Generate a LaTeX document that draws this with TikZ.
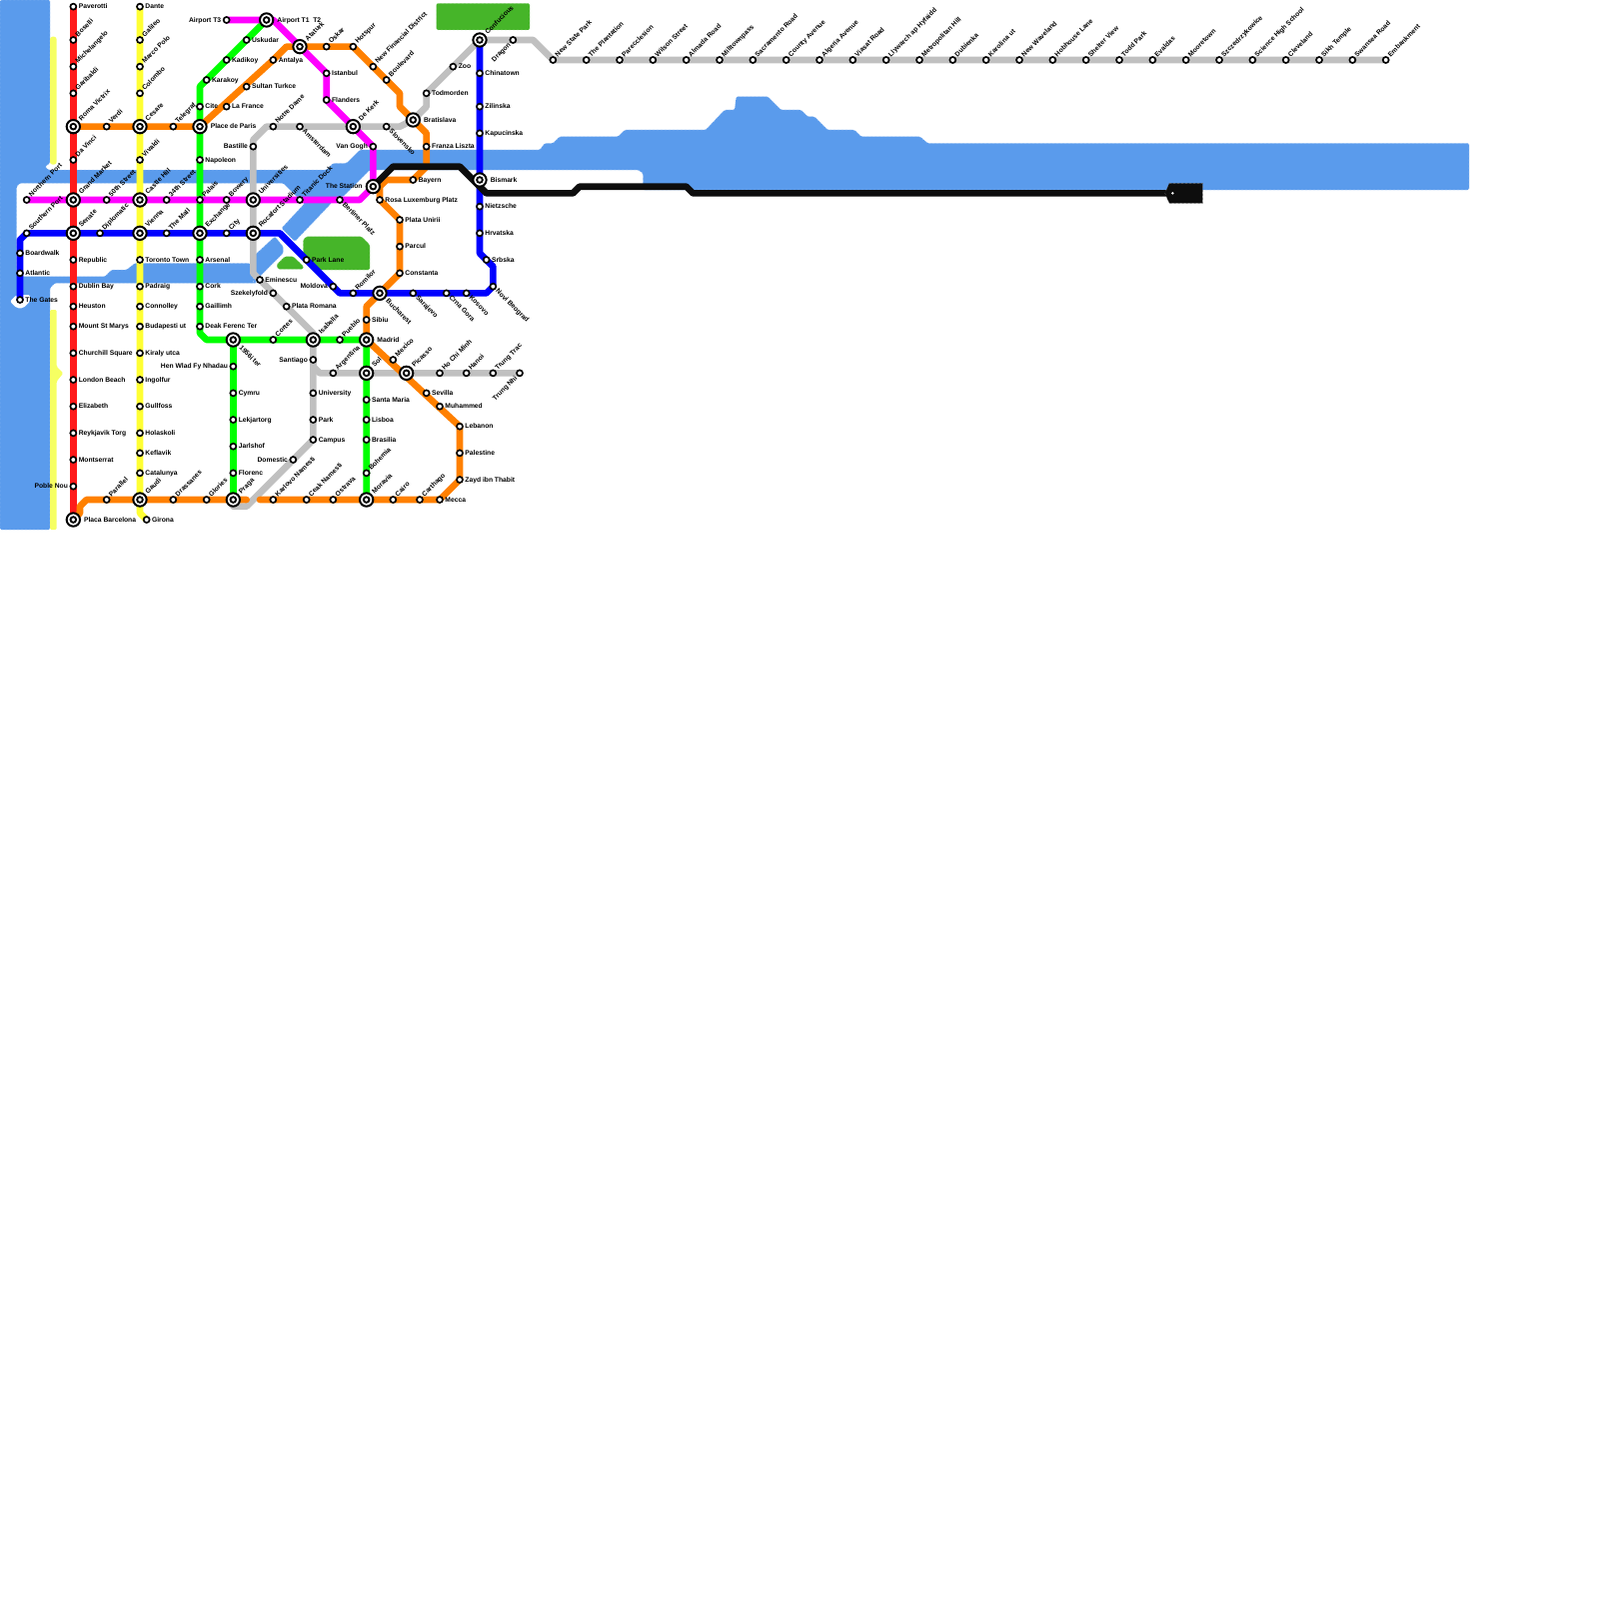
\documentclass[tikz,border=0pt]{standalone}
\usepackage{fontspec}
\setmainfont{Liberation Sans}
\pgfdeclarelayer{water}\pgfdeclarelayer{lines}
\pgfsetlayers{water,lines,main}
\definecolor{wat}{HTML}{5A9BEC}
\definecolor{prk}{HTML}{46B529}
\definecolor{pyel}{HTML}{F6FF62}
\definecolor{lred}{HTML}{FF1A1A}
\definecolor{lorg}{HTML}{FF8000}
\definecolor{lyel}{HTML}{FFFF33}
\definecolor{lgrn}{HTML}{00FF00}
\definecolor{lblu}{HTML}{0000FF}
\definecolor{lmag}{HTML}{FF00FF}
\definecolor{lgry}{HTML}{C0C0C0}
\definecolor{lblk}{HTML}{0D0D0D}
\tikzset{
 stn/.style={circle,draw=black,fill=white,line width=.25mm,minimum size=.9mm,inner sep=0},
 ixo/.style={circle,draw=black,fill=white,line width=.3mm,minimum size=2mm,inner sep=0},
 ixi/.style={circle,draw=black,fill=white,line width=.28mm,minimum size=.85mm,inner sep=0},
 lab/.style={inner sep=0,font=\fontsize{2.87}{3}\selectfont\bfseries,text height=.8mm,text depth=.14mm,text=black},
 labR/.style={lab,xshift=.75mm,anchor=west},
 labL/.style={lab,xshift=-.75mm,anchor=east},
 labU/.style={lab,xshift=.45mm,yshift=.6mm,rotate=45,anchor=west},
 labD/.style={lab,xshift=.55mm,yshift=-.5mm,rotate=-45,anchor=west},
 labDL/.style={lab,xshift=-.5mm,yshift=-.55mm,rotate=45,anchor=east},
 labRI/.style={lab,xshift=1.55mm,anchor=west},
 labLI/.style={lab,xshift=-1.55mm,anchor=east},
 labUI/.style={lab,xshift=.95mm,yshift=1mm,rotate=45,anchor=west},
 labDI/.style={lab,xshift=1.05mm,yshift=-1mm,rotate=-45,anchor=west},
 ln/.style={line width=1mm,line join=round,line cap=round},
 wfill/.style={fill=wat,draw=white!55!wat,line width=.05mm,dash pattern=on .3mm off .3mm,rounded corners=.2mm},
 pfill/.style={fill=prk,draw=white!55!prk,line width=.05mm,dash pattern=on .3mm off .3mm,rounded corners=.2mm},
}
\newcommand{\St}[5]{\node[stn] (#1) at (#2,#3) {};\node[lab#4] (#1l) at (#1.center) {#5};}
\newcommand{\Ix}[5]{\node[ixo] (#1) at (#2,#3) {};\node[ixi] (#1i) at (#1.center) {};\node[lab#4I] (#1l) at (#1.center) {#5};}
\begin{document}
\begin{tikzpicture}[x=1mm,y=-1mm]
\useasboundingbox (0,0) rectangle (240,240);
% red
\St{pav}{11}{1}{R}{Paverotti}\St{bos}{11}{6}{U}{Boselli}\St{mic}{11}{10}{U}{Michelangelo}\St{gar}{11}{14}{U}{Garibaldi}
\Ix{rom}{11}{19}{U}{Roma Victrix}\St{dav}{11}{24}{U}{Da Vinci}\Ix{grm}{11}{30}{U}{Grand Market}\Ix{sen}{11}{35}{U}{Senate}
\St{rep}{11}{39}{R}{Republic}\St{dub}{11}{43}{R}{Dublin Bay}\St{heu}{11}{46}{R}{Heuston}\St{mou}{11}{49}{R}{Mount St Marys}
\St{chu}{11}{53}{R}{Churchill Square}\St{lon}{11}{57}{R}{London Beach}\St{eli}{11}{61}{R}{Elizabeth}\St{rey}{11}{65}{R}{Reykjavik Torg}
\St{mon}{11}{69}{R}{Montserrat}\St{pob}{11}{73}{L}{Poble Nou}\Ix{pla}{11}{78}{R}{Placa Barcelona}
% yellow
\St{dan}{21}{1}{R}{Dante}\St{gal}{21}{6}{U}{Galileo}\St{mar}{21}{10}{U}{Marco Polo}\St{col}{21}{14}{U}{Colombo}
\Ix{ces}{21}{19}{U}{Cesare}\St{viv}{21}{24}{U}{Vivaldi}\Ix{cas}{21}{30}{U}{Castle Hill}\Ix{vie}{21}{35}{U}{Vienna}
\St{tor}{21}{39}{R}{Toronto Town}\St{pad}{21}{43}{R}{Padraig}\St{con}{21}{46}{R}{Connolley}\St{bud}{21}{49}{R}{Budapesti ut}
\St{kir}{21}{53}{R}{Kiraly utca}\St{ing}{21}{57}{R}{Ingolfur}\St{gul}{21}{61}{R}{Gullfoss}\St{hol}{21}{65}{R}{Holaskoli}
\St{kef}{21}{68}{R}{Keflavik}\St{cat}{21}{71}{R}{Catalunya}\Ix{gau}{21}{75}{U}{Gaudi}\St{gir}{22}{78}{R}{Girona}
% green
\Ix{atw}{40}{3}{R}{Airport T1\ \ T2}\St{usk}{37}{6}{R}{Uskudar}\St{kad}{34}{9}{R}{Kadikoy}\St{kar}{31}{12}{R}{Karakoy}
\St{cit}{30}{16}{R}{Cite}\Ix{pdp}{30}{19}{R}{Place de Paris}\St{nap}{30}{24}{R}{Napoleon}\St{pal}{30}{30}{U}{Palais}
\Ix{exc}{30}{35}{U}{Exchange}\St{ars}{30}{39}{R}{Arsenal}\St{cor}{30}{43}{R}{Cork}\St{gai}{30}{46}{R}{Gaillimh}\St{dea}{30}{49}{R}{Deak Ferenc Ter}
\Ix{nin}{35}{51}{D}{1956i ter}\St{crt}{41}{51}{U}{Cortes}\Ix{isa}{47}{51}{U}{Isabella}\St{pue}{51}{51}{U}{Pueblo}\Ix{mad}{55}{51}{R}{Madrid}
\Ix{sol}{55}{56}{U}{Sol}\St{san}{55}{60}{R}{Santa Maria}\St{lis}{55}{63}{R}{Lisboa}\St{bra}{55}{66}{R}{Brasilia}\St{boh}{55}{71}{U}{Bohemia}\Ix{mor}{55}{75}{U}{Moravia}
\St{hen}{35}{55}{L}{Hen Wlad Fy Nhadau}\St{cym}{35}{59}{R}{Cymru}\St{lek}{35}{63}{R}{Lekjartorg}\St{jar}{35}{67}{R}{Jarlshof}\St{flo}{35}{71}{R}{Florenc}\Ix{pra}{35}{75}{U}{Praga}
% magenta
\St{ath}{34}{3}{L}{Airport T3}\Ix{ata}{45}{7}{U}{Ataturk}\St{ist}{49}{11}{R}{Istanbul}\St{fla}{49}{15}{R}{Flanders}\Ix{dek}{53}{19}{U}{De Kerk}
\St{van}{56}{22}{L}{Van Gogh}\Ix{sta}{56}{28}{L}{The Station}\St{ber}{51}{30}{D}{Berliner Platz}\St{tit}{45}{30}{U}{Titanic Dock}\Ix{uni}{38}{30}{U}{Universities}
\St{bow}{34}{30}{U}{Bowery}\St{tfo}{25}{30}{U}{34th Street}\St{fif}{16}{30}{U}{50th Street}\St{nor}{4}{30}{U}{Northern Port}
% blue
\St{sou}{4}{35}{U}{Southern Port}\St{boa}{3}{38}{R}{Boardwalk}\St{atl}{3}{41}{R}{Atlantic}\St{gat}{3}{45}{R}{The Gates}
\St{dip}{15}{35}{U}{Diplomatic}\St{mal}{25}{35}{U}{The Mall}\St{ctv}{34}{35}{U}{City}\Ix{roc}{38}{35}{U}{Rocafort Stadium}
\St{prl}{46}{39}{R}{Park Lane}\St{mol}{50}{43}{L}{Moldova}\St{rmi}{53}{44}{U}{Romilor}\Ix{buc}{57}{44}{D}{Bucharest}
\St{sar}{62}{44}{D}{Sarajevo}\St{crn}{67}{44}{D}{Crna Gora}\St{kos}{70}{44}{D}{Kosovo}\St{nov}{74}{43}{D}{Novi Beograd}
\St{srb}{73}{39}{R}{Srbska}\St{hrv}{72}{35}{R}{Hrvatska}\St{nie}{72}{31}{R}{Nietzsche}\Ix{bis}{72}{27}{R}{Bismark}
\St{kap}{72}{20}{R}{Kapucinska}\St{zil}{72}{16}{R}{Zilinska}\St{chi}{72}{11}{R}{Chinatown}\Ix{cfu}{72}{6}{U}{Confucious}
% orange
\St{par}{16}{75}{U}{Parallel}\St{dra}{26}{75}{U}{Drassanes}\St{glo}{31}{75}{U}{Glories}
\St{ver}{16}{19}{U}{Verdi}\St{tel}{26}{19}{U}{Telegraf}\St{lfr}{34}{16}{R}{La France}\St{sul}{37}{13}{R}{Sultan Turkce}\St{ant}{41}{9}{R}{Antalya}
\St{osk}{49}{7}{U}{Oskar}\St{hot}{53}{7}{U}{Hotspur}\St{nfd}{56}{10}{U}{New Financial District}\St{bou}{58}{12}{U}{Boulevard}
\Ix{bsl}{62}{18}{R}{Bratislava}\St{fra}{64}{22}{R}{Franza Liszta}\St{bay}{62}{27}{R}{Bayern}\St{ros}{57}{30}{R}{Rosa Luxemburg Platz}
\St{unr}{60}{33}{R}{Plata Unirii}\St{pcl}{60}{37}{R}{Parcul}\St{cst}{60}{41}{R}{Constanta}\St{sib}{55}{48}{R}{Sibiu}
\St{mex}{59}{54}{U}{Mexico}\Ix{pic}{61}{56}{U}{Picasso}\St{sev}{64}{59}{R}{Sevilla}\St{muh}{66}{61}{R}{Muhammed}\St{leb}{69}{64}{R}{Lebanon}
\St{pst}{69}{68}{R}{Palestine}\St{zay}{69}{72}{R}{Zayd ibn Thabit}\St{mec}{66}{75}{R}{Mecca}\St{cth}{63}{75}{U}{Carthago}\St{cai}{59}{75}{U}{Cairo}
\St{ost}{50}{75}{U}{Ostrava}\St{cea}{46}{75}{U}{Ceak Namesti}\St{kno}{41}{75}{U}{Karlovo Namesti}
% gray
\St{bas}{38}{22}{L}{Bastille}\St{ntd}{41}{19}{U}{Notre Dame}\St{ams}{45}{19}{D}{Amsterdam}\St{slo}{58}{19}{D}{Slovensko}
\St{emi}{39}{42}{R}{Eminescu}\St{sze}{41}{44}{L}{Szekelyfold}\St{prm}{43}{46}{R}{Plata Romana}
\St{sag}{47}{54}{L}{Santiago}\St{uty}{47}{59}{R}{University}\St{prk}{47}{63}{R}{Park}\St{cam}{47}{66}{R}{Campus}\St{dom}{44}{69}{L}{Domestic}
\St{arg}{50}{56}{U}{Argentina}\St{hcm}{66}{56}{U}{Ho Chi Minh}\St{han}{70}{56}{U}{Hanoi}\St{trt}{74}{56}{U}{Trung Trac}\St{trn}{78}{56}{DL}{Trung Nhi}
\St{tod}{64}{14}{R}{Todmorden}\St{zoo}{68}{10}{R}{Zoo}\St{dgn}{77}{6}{DL}{Dragon}
\St{nsp}{83}{9}{U}{New State Park}\St{pln}{88}{9}{U}{The Plantation}\St{prc}{93}{9}{U}{Parecclesion}\St{wil}{98}{9}{U}{Wilson Street}
\St{alm}{103}{9}{U}{Almada Road}\St{mil}{108}{9}{U}{Milltownpass}\St{sac}{113}{9}{U}{Sacramento Road}\St{cou}{118}{9}{U}{County Avenue}
\St{alg}{123}{9}{U}{Algeria Avenue}\St{via}{128}{9}{U}{Viasat Road}\St{lly}{133}{9}{U}{Llywarch ap Hyfaidd}\St{met}{138}{9}{U}{Metropolitan Hill}
\St{dbk}{143}{9}{U}{Dubienka}\St{kro}{148}{9}{U}{Karolina ut}\St{nwv}{153}{9}{U}{New Waveland}\St{hob}{158}{9}{U}{Hobhouse Lane}
\St{she}{163}{9}{U}{Shelter View}\St{tdp}{168}{9}{U}{Todd Park}\St{eva}{173}{9}{U}{Evaldas}\St{moo}{178}{9}{U}{Mooretown}
\St{szc}{183}{9}{U}{Szczedrzykowice}\St{sci}{188}{9}{U}{Science High School}\St{cle}{193}{9}{U}{Cleveland}\St{sik}{198}{9}{U}{Sikh Temple}
\St{swa}{203}{9}{U}{Swansea Road}\St{emb}{208}{9}{U}{Embankment}
% black terminal
\node[circle,fill=white,minimum size=.4mm,inner sep=0] (term) at (176,29) {};
\begin{pgfonlayer}{water}
\path[wfill] (0,0)--(7.5,0)--(7.5,24.5)--(6.75,25)--(7.25,25.5)--(49,25.5)--(50,24.5)--(52,24.5)--(54,22.5)--(81,22.5)--(81.75,21.5)--(83,21.5)--(84,20.5)--(92.75,20.5)--(93.75,19.5)--(105.9,19.5)--(108.75,16.5)--(110.25,16.5)--(110.5,14.5)--(115.25,14.5)--(117.25,16.5)--(120.25,16.5)--(121.25,17.5)--(122.25,17.5)--(124.25,19.5)--(128.25,19.5)--(129.25,20.5)--(138.1,20.5)--(139.25,21.5)--(220.5,21.5)--(220.5,28.5)--(96.5,28.5)--(96.5,26)--(95.75,25.5)--(55.5,25.5)--(52.5,28.5)--(51.5,29.5)--(50,30)--(49.5,30.75)--(44.25,36.25)--(42.25,34.25)--(45.75,30.5)--(44.5,29.5)--(42.5,27.5)--(3,27.5)--(2.5,28)--(2.5,41)--(3.5,41.5)--(15.75,41.5)--(16.75,40.5)--(19,40.5)--(20.25,39.5)--(37.5,39.5)--(38.5,41)--(38.5,42.5)--(8.25,42.5)--(7.5,43.25)--(7.5,79.5)--(0,79.5)--cycle;
\path[wfill] (38,38.5)--(41.25,35.5)--(42.5,37)--(42.5,38)--(38.5,42)--(38,42.5)--cycle;
\path[fill=white,rounded corners=.3mm] (1.5,45.25)--(2.5,44.25)--(4.5,44.25)--(4.5,45.25)--(3.5,46.25)--(2.5,46.25)--cycle;
\path[pfill] (65.5,.5)--(79.5,.5)--(79.5,4.5)--(65.5,4.5)--cycle;
\path[pfill] (45.5,38)--(45.5,36)--(46,35.5)--(54.25,35.5)--(55.5,36.75)--(55.5,40.5)--(47.5,40.5)--cycle;
\path[pfill] (41.5,39.75)--(42.75,38.5)--(44,38.5)--(45.5,39.9)--(45.5,40.4)--(41.75,40.4)--cycle;
\fill[pyel,rounded corners=.4mm] (7.5,5.5) rectangle (8.5,24.7);
\fill[pyel,rounded corners=.2mm] (7.5,46.5)--(8.5,46.5)--(8.5,55)--(9.5,56)--(8.5,57.25)--(8.5,79.5)--(7.5,79.5)--cycle;
\end{pgfonlayer}
\begin{pgfonlayer}{lines}
% gray
\draw[ln,lgry] (bas.center)--(38,21)--(40,19)--(ntd.center)--(ams.center)--(dek.center)--(slo.center)--(60,19)--(bsl.center)--(64,16)--(tod.center)--(zoo.center)--(cfu.center)--(dgn.center)--(80,6)--(nsp.center)--(emb.center);
\draw[ln,lgry] (bas.center)--(uni.center)--(roc.center)--(38,41)--(emi.center)--(sze.center)--(prm.center)--(47,50)--(isa.center)--(sag.center)--(uty.center)--(prk.center)--(cam.center)--(dom.center)--(37,76)--(35,76)--(pra.center);
\draw[ln,lgry] (sag.center)--(47,55)--(48,56)--(arg.center)--(sol.center)--(pic.center)--(hcm.center)--(han.center)--(trt.center)--(trn.center);
% red, yellow
\draw[ln,lred] (pav.center)--(pla.center);
\draw[ln,lyel] (dan.center)--(gau.center)--(21,77)--(gir.center);
% green
\draw[ln,lgrn] (atw.center)--(kar.center)--(30,13)--(cit.center)--(dea.center)--(30,50)--(31,51)--(nin.center)--(mad.center)--(mor.center);
\draw[ln,lgrn] (nin.center)--(pra.center);
% orange
\draw[ln,lorg] (rom.center)--(pdp.center)--(ant.center)--(43,7)--(hot.center)--(bou.center)--(60,14)--(60,16)--(bsl.center)--(64,20)--(64,25)--(63,26)--(62,27)--(58,27)--(57,28)--(ros.center)--(unr.center)--(cst.center)--(buc.center)--(55,46)--(mad.center)--(leb.center)--(zay.center)--(mec.center)--(kno.center)--(39,75);
\draw[ln,lorg] (37,75)--(gau.center)--(13,75)--(12,76)--(12,77)--(pla.center);
% magenta
\draw[ln,lmag] (ath.center)--(atw.center)--(41,3)--(ist.center)--(fla.center)--(van.center)--(sta.center)--(54,30)--(nor.center);
% blue
\draw[ln,lblu] (gat.center)--(3,36)--(sou.center)--(42,35)--(51,44)--(73,44)--(nov.center)--(74,40)--(srb.center)--(72,38)--(cfu.center);
% black
\draw[ln,lblk] (sta.center)--(59,25)--(69,25)--(73,29)--(86,29)--(87,28)--(103,28)--(104,29)--(term.center);
\path[fill=lblk,draw=white!40!lblk,line width=.05mm,dash pattern=on .3mm off .3mm] (175.5,27.5)--(180.5,27.5)--(180.5,30.5)--(175.5,30.5)--(174.85,29)--cycle;
\end{pgfonlayer}
\end{tikzpicture}
\end{document}
